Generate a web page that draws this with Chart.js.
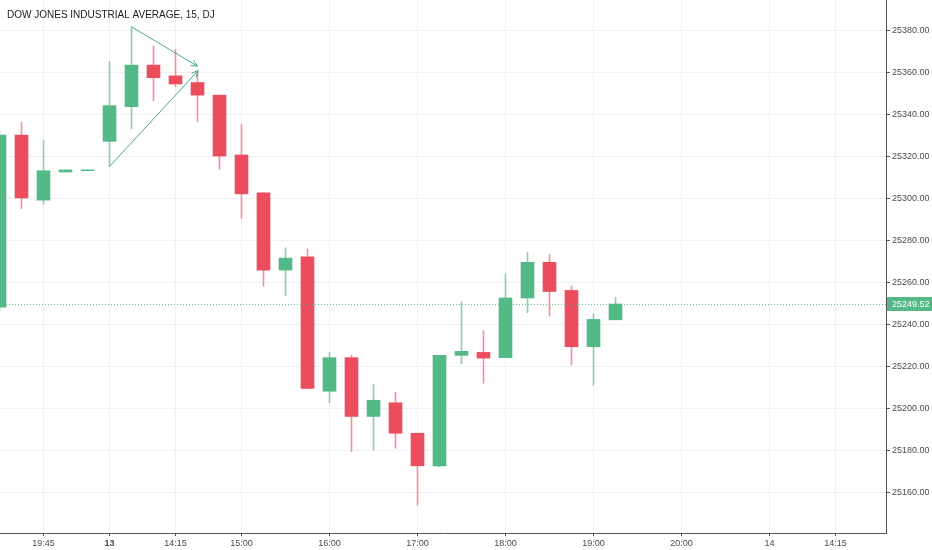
<!DOCTYPE html>
<html><head><meta charset="utf-8">
<script src="https://cdn.jsdelivr.net/npm/chart.js@4.4.0/dist/chart.umd.min.js"></script>
<style>html,body{margin:0;padding:0;background:#fff;}#wrap{width:932px;height:550px;}</style>
</head><body><div id="wrap"><canvas id="c" width="932" height="550"></canvas></div>
<script>
const TITLE = 'DOW JONES INDUSTRIAL AVERAGE, 15, DJ';
const candleIndex = [0,1,2,3,4,5,6,7,8,9,10,11,12,13,14,15,16,17,18,19,20,21,22,23,24,25,26,27,28];
const opens  = [25248,25330,25299,25312.4,25313.0,25327,25343.5,25363.3,25358.2,25355,25349,25320.5,25302.5,25265.7,25272,25208,25224,25196,25202.5,25188,25172.5,25225.1,25226.5,25224,25252.4,25269.4,25256,25229.2,25242];
const highs  = [25332,25336,25327.5,25313.4,25313.4,25365,25381.5,25372.4,25370.8,25360,25349,25335,25302.5,25276.3,25275.7,25226.5,25225.2,25211.4,25207.5,25188,25225.1,25250.6,25236.8,25264,25274.1,25273.2,25258.2,25244.8,25252.7];
const lows   = [25246,25295,25297,25312.4,25313.0,25315,25333,25346.3,25353,25336.3,25313.7,25290.3,25258,25253.5,25209.4,25202.5,25179.2,25180,25180.8,25153.8,25172,25221,25211.8,25224,25245.4,25243.8,25220.5,25210.9,25242];
const closes = [25330,25300,25313,25313.4,25313.4,25344,25363.3,25357.3,25354.3,25349,25320,25302,25265.7,25271.4,25209.4,25224,25196,25203.7,25188,25172.5,25225.1,25227,25223.8,25252.4,25269.4,25255.5,25229.2,25242.2,25249.52];
const lastPrice = 25249.52;
const xTickPos = [2,5,8,11,15,19,23,27,31,35,38];
const xTickLabels = ['19:45','13','14:15','15:00','16:00','17:00','18:00','19:00','20:00','14','14:15'];
const xBoldTicks = ['13'];
const yTicks = [25160,25180,25200,25220,25240,25260,25280,25300,25320,25340,25360,25380];
const trendAX = [6.02, 9.0];
const trendAY = [25381.4, 25362.8];
const trendBX = [4.99, 9.03];
const trendBY = [25314.9, 25360.7];

const GREEN = '#53b987', RED = '#eb4d5c';
const GREEN_WICK = '#8ccfae', RED_WICK = '#f2939c';
const TREND = '#4aa985';
const FONT = "'Liberation Sans',Arial,sans-serif";
const X_MIN = 0.023, X_MAX = 40.295;
const Y_MIN = 25140.5, Y_MAX = 25394.3;

Chart.defaults.font.family = FONT;
const up = candleIndex.map(i => closes[i] >= opens[i]);

const overlay = {
  id: 'overlay',
  afterDatasetsDraw(chart) {
    const {ctx, chartArea: a, scales: {x, y}} = chart;
    const py = Math.round(y.getPixelForValue(lastPrice)) + 0.5;
    ctx.save();
    ctx.strokeStyle = 'rgba(83,185,135,0.9)';
    ctx.lineWidth = 1;
    ctx.setLineDash([1, 2]);
    ctx.beginPath(); ctx.moveTo(a.left, py); ctx.lineTo(a.right, py); ctx.stroke();
    ctx.setLineDash([]);
    ctx.strokeStyle = TREND;
    [[trendAX, trendAY], [trendBX, trendBY]].forEach(([xs, ys]) => {
      const n = xs.length;
      const x1 = x.getPixelForValue(xs[n-2]), y1 = y.getPixelForValue(ys[n-2]);
      const x2 = x.getPixelForValue(xs[n-1]), y2 = y.getPixelForValue(ys[n-1]);
      const ang = Math.atan2(y2 - y1, x2 - x1), L = 7, s = 0.45;
      ctx.beginPath();
      ctx.moveTo(x2 - L*Math.cos(ang - s), y2 - L*Math.sin(ang - s));
      ctx.lineTo(x2, y2);
      ctx.lineTo(x2 - L*Math.cos(ang + s), y2 - L*Math.sin(ang + s));
      ctx.stroke();
    });
    ctx.restore();
  },
  afterDraw(chart) {
    const {ctx, chartArea: a, scales: {y}} = chart;
    const py = Math.round(y.getPixelForValue(lastPrice));
    ctx.save();
    ctx.fillStyle = GREEN;
    ctx.fillRect(a.right + 1, py - 7, chart.width - a.right - 1, 14);
    ctx.fillStyle = '#ffffff';
    ctx.font = '9px ' + FONT;
    ctx.textBaseline = 'middle';
    ctx.textAlign = 'left';
    ctx.fillText(lastPrice.toFixed(2), a.right + 6, py + 0.5);
    ctx.fillStyle = '#222222';
    ctx.font = '10px ' + FONT;
    ctx.fillText(TITLE, 7, 15);
    ctx.restore();
  }
};

new Chart(document.getElementById('c'), {
  type: 'bar',
  data: {
    datasets: [
      {
        label: 'wick',
        data: candleIndex.map(i => ({x: i, y: [lows[i], highs[i]]})),
        backgroundColor: candleIndex.map(i => up[i] ? GREEN_WICK : RED_WICK),
        barThickness: 1, grouped: false, order: 3, borderWidth: 0
      },
      {
        label: 'body',
        data: candleIndex.map(i => ({x: i, y: [opens[i], closes[i]]})),
        backgroundColor: candleIndex.map(i => up[i] ? GREEN : RED),
        barThickness: 13, grouped: false, order: 2, borderWidth: 0
      },
      {
        type: 'line', label: 'trendA',
        data: trendAX.map((v, i) => ({x: v, y: trendAY[i]})),
        borderColor: TREND, borderWidth: 1, pointRadius: 0, tension: 0, order: 1, fill: false
      },
      {
        type: 'line', label: 'trendB',
        data: trendBX.map((v, i) => ({x: v, y: trendBY[i]})),
        borderColor: TREND, borderWidth: 1, pointRadius: 0, tension: 0, order: 1, fill: false
      }
    ]
  },
  options: {
    responsive: false,
    animation: false,
    layout: {padding: 0},
    plugins: {legend: {display: false}, tooltip: {enabled: false}, title: {display: false}},
    scales: {
      x: {
        type: 'linear', position: 'bottom', min: X_MIN, max: X_MAX, offset: false,
        afterBuildTicks: s => { s.ticks = xTickPos.map(v => ({value: v})); },
        afterFit: s => { s.height = 17; s.paddingLeft = 0; s.paddingRight = 0; },
        grid: {color: '#eef0f3', offset: false, drawTicks: true, tickLength: 3, tickColor: '#555'},
        border: {color: '#555', width: 1},
        ticks: {
          autoSkip: false, maxRotation: 0, padding: 2, color: '#4a4a4a',
          callback: v => { const k = xTickPos.indexOf(v); return k >= 0 ? xTickLabels[k] : ''; },
          font: ctx => {
            const k = ctx.tick ? xTickPos.indexOf(ctx.tick.value) : -1;
            const bold = k >= 0 && xBoldTicks.includes(xTickLabels[k]);
            return {size: 9, family: FONT, weight: bold ? 'bold' : 'normal'};
          }
        }
      },
      y: {
        type: 'linear', position: 'right', min: Y_MIN, max: Y_MAX,
        afterBuildTicks: s => { s.ticks = yTicks.map(v => ({value: v})); },
        afterFit: s => { s.width = 46; s.paddingTop = 0; s.paddingBottom = 0; },
        grid: {color: '#eef0f3', drawTicks: true, tickLength: 4, tickColor: '#555'},
        border: {color: '#555', width: 1},
        ticks: {padding: 2, color: '#4a4a4a', font: {size: 9, family: FONT},
          callback: v => Number(v).toFixed(2)}
      }
    }
  },
  plugins: [overlay]
});
</script></body></html>
